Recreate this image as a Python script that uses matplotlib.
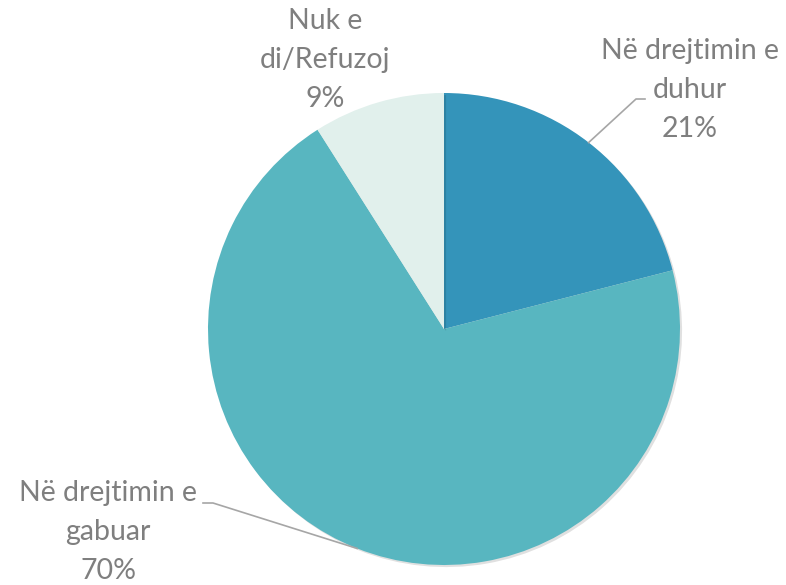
import numpy as np
import matplotlib.pyplot as plt
import matplotlib.patheffects as pe

W, H = 786, 585

# data
labels = ['Në drejtimin e\nduhur', 'Në drejtimin e\ngabuar', 'Nuk e\ndi/Refuzoj']
values = [21, 70, 9]
colors = ['#3494BA', '#58B6C0', '#E1F0EC']

# label layout (pixel coords, y from top)
label_pos = [(690, 90), (108, 532), (325, 60)]
# elbow points for leader lines, None = no leader
leader_elbow = [((636, 99), (645, 99)), ((213, 503), (203, 503)), None]

CENTER = (444, 329)
RADIUS = 236
TEXT_COLOR = '#7F7F7F'


def flip(p):
	return (p[0], H - p[1])


fig = plt.figure(figsize=(W / 100, H / 100), dpi=100)
ax = fig.add_axes([0, 0, 1, 1])

wedges, _ = ax.pie(values, colors=colors, startangle=90, counterclock=False,
	center=flip(CENTER), radius=RADIUS, frame=True,
	wedgeprops={'linewidth': 0})
# faint drop shadow like the office-style chart
for w in wedges:
	w.set_path_effects([pe.SimplePatchShadow(offset=(1.5, -1.5), shadow_rgbFace='#000000', alpha=0.12), pe.Normal()])
ax.set_xlim(0, W)
ax.set_ylim(0, H)
ax.set_aspect('equal')
ax.axis('off')

total = sum(values)
for w, lab, v, pos, leader in zip(wedges, labels, values, label_pos, leader_elbow):
	txt = f'{lab}\n{round(100 * v / total)}%'
	x, y = flip(pos)
	ax.text(x, y, txt, ha='center', va='center', fontsize=20.5, family='Lato',
		color=TEXT_COLOR, linespacing=1.62)
	if leader:
		ang = np.deg2rad((w.theta1 + w.theta2) / 2)
		cx, cy = w.center
		ex, ey = cx + w.r * np.cos(ang), cy + w.r * np.sin(ang)
		p1 = flip(leader[0])
		p2 = flip(leader[1])
		ax.plot([ex, p1[0], p2[0]], [ey, p1[1], p2[1]], color='#A6A6A6', lw=1.2)

fig.savefig('out.png', dpi=100)
